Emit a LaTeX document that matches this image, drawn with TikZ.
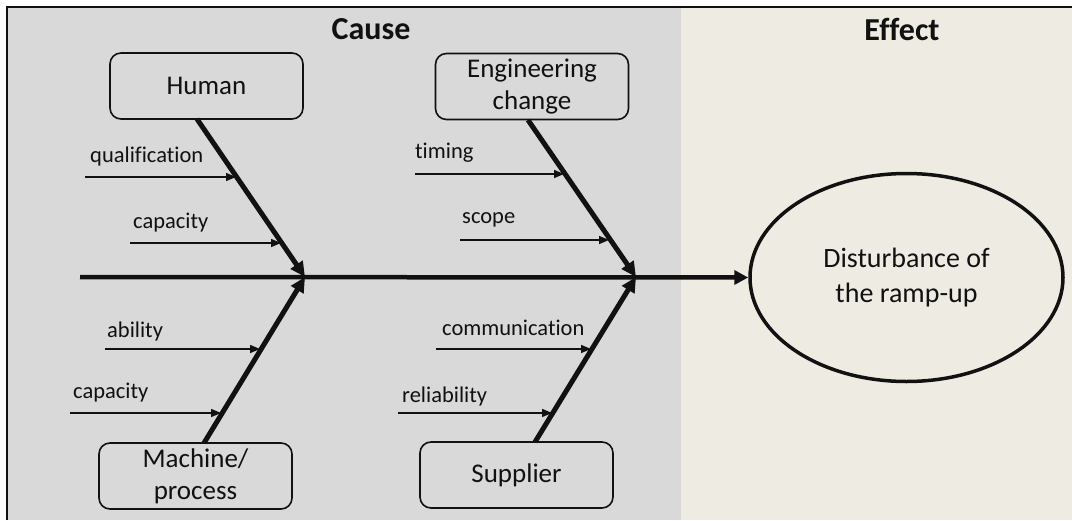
\documentclass[tikz,border=0pt]{standalone}
\usepackage{fontspec}
\setmainfont[Ligatures=NoCommon]{Carlito}
\usetikzlibrary{arrows.meta,shapes.geometric}
\definecolor{causebg}{HTML}{D9D9D9}
\definecolor{effectbg}{HTML}{EEEBE2}
\definecolor{ink}{HTML}{111111}
\begin{document}
\begin{tikzpicture}[x=1pt,y=-1pt,
  catbox/.style={draw=ink, line width=1.6pt, rounded corners=11pt,
    minimum width=193pt, minimum height=66pt, align=center, inner sep=0pt,
    font=\fontsize{27}{32}\selectfont, text=ink},
  bone/.style={draw=ink, line width=5pt, -{Triangle[length=15pt,width=14pt]}},
  twig/.style={draw=ink, line width=1.5pt, -{Triangle[length=10pt,width=8pt]}},
  lab/.style={anchor=base west, inner sep=0pt, font=\fontsize{22.5}{26}\selectfont, text=ink},
  title/.style={inner sep=0pt, font=\bfseries\fontsize{32}{38}\selectfont, text=ink},
]
\useasboundingbox (0,0) rectangle (1072,520);

% panels
\fill[causebg] (7,7) rectangle (681,520);
\fill[effectbg] (681,7) rectangle (1072,520);
\draw[ink, line width=1.5pt] (7,520) -- (7,7) -- (1072,7);

\node[title] (tcause) at (371,29) {Cause};
\node[title] (teffect) at (902,29) {Effect};

% effect
\node[draw=ink, line width=3.5pt, ellipse, minimum width=313pt, minimum height=208pt,
  inner sep=0pt, align=center, font=\fontsize{28}{35}\selectfont, text=ink]
  (eff) at (906.5,277.5) {Disturbance of\\the ramp-up};

% categories
\node[catbox] (hum) at (206.5,86) {Human};
\node[catbox] (eng) at (532,86.5) {Engineering\\change};
\node[catbox] (mac) at (195.5,476) {Machine/\\process};
\node[catbox] (sup) at (516.5,475) {Supplier};

% spine
\coordinate (tail) at (80,277);
\coordinate (j1) at (305,277);
\coordinate (j2) at (636,277);
\draw[draw=ink, line width=4.5pt, -{Triangle[length=14pt,width=14pt]}] (tail) -- (eff.west);

% bones
\coordinate (hb) at (197,119);
\coordinate (eb) at (528,120);
\coordinate (mb) at (204,443);
\coordinate (sb) at (535,442);
\draw[bone] (hb) -- (j1);
\draw[bone] (eb) -- (j2);
\draw[bone] (mb) -- (j1);
\draw[bone] (sb) -- (j2);

% sub-causes: Human
\coordinate (h1s) at (85,177);  \coordinate (h1e) at (236,177);
\coordinate (h2s) at (130,243); \coordinate (h2e) at (281,243);
\draw[twig] (h1s) -- (h1e);
\draw[twig] (h2s) -- (h2e);
\node[lab] (lq) at (90,162) {qualification};
\node[lab] (lc1) at (133,228) {capacity};

% sub-causes: Engineering change
\coordinate (e1s) at (415,174); \coordinate (e1e) at (564,174);
\coordinate (e2s) at (460,240); \coordinate (e2e) at (609,240);
\draw[twig] (e1s) -- (e1e);
\draw[twig] (e2s) -- (e2e);
\node[lab] (lt) at (415,158) {timing};
\node[lab] (ls) at (462,223) {scope};

% sub-causes: Machine/process
\coordinate (m1s) at (105,349); \coordinate (m1e) at (260,349);
\coordinate (m2s) at (70,413);  \coordinate (m2e) at (221,413);
\draw[twig] (m1s) -- (m1e);
\draw[twig] (m2s) -- (m2e);
\node[lab] (la) at (107,337) {ability};
\node[lab] (lc2) at (73,398) {capacity};

% sub-causes: Supplier
\coordinate (s1s) at (436,349); \coordinate (s1e) at (591,349);
\coordinate (s2s) at (398,413); \coordinate (s2e) at (552,413);
\draw[twig] (s1s) -- (s1e);
\draw[twig] (s2s) -- (s2e);
\node[lab] (lcm) at (442,335) {communication};
\node[lab] (lr) at (402,402) {reliability};
\end{tikzpicture}
\end{document}
